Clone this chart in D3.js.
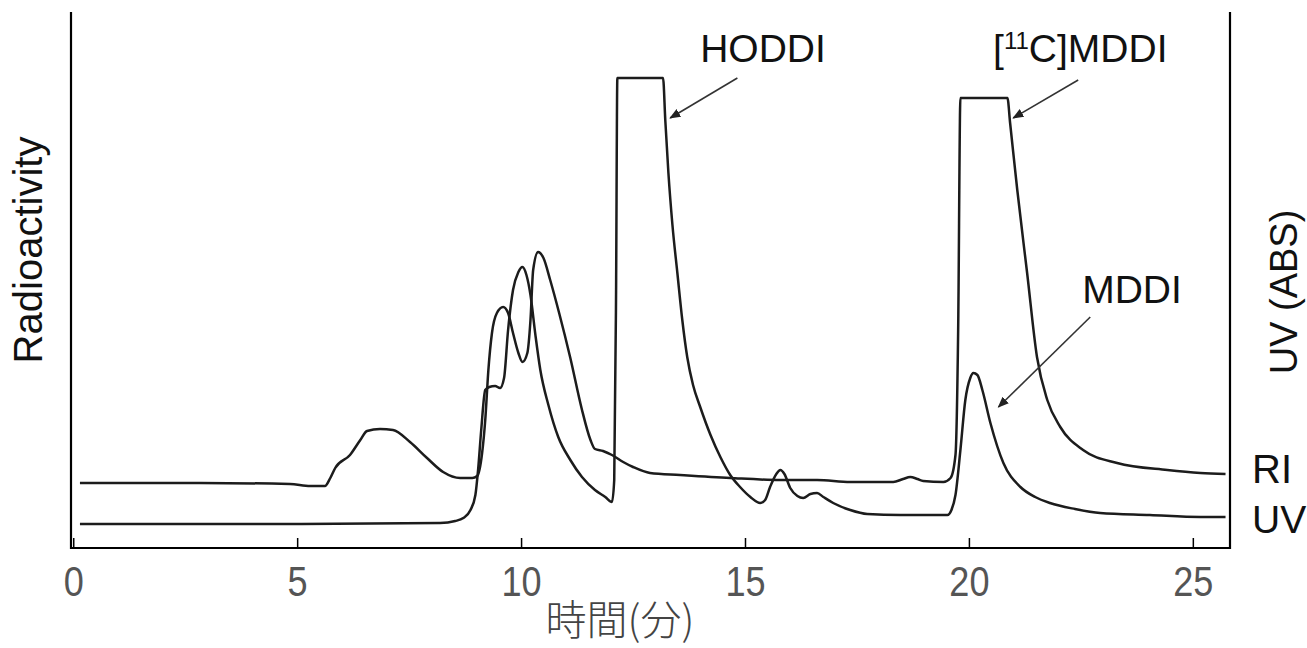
<!DOCTYPE html>
<html>
<head>
<meta charset="utf-8">
<script src="https://cdn.jsdelivr.net/npm/d3@7"></script>
<style>
  body { margin: 0; background: #fff; }
  svg { display: block; }
  .lbl { font-family: "Liberation Sans", Arial, sans-serif; fill: #111; }
  .tick text { font-family: "Liberation Sans Narrow", "Arial Narrow", "Liberation Sans", sans-serif; fill: #555; }
</style>
</head>
<body>
<svg id="chart" width="1307" height="648"></svg>
<script>
// retention time (min) and detector signal (arbitrary units)
var riTime = [0.15, 2.83, 4.84, 5.29, 5.62, 5.74, 5.85, 6.18, 6.41, 6.56, 6.85, 7.14, 7.52, 7.90, 8.26, 8.64, 8.91,
  9.02, 9.13, 9.20, 9.27, 9.35, 9.46, 9.60, 9.71, 9.82, 9.94, 10.03, 10.14, 10.21, 10.27, 10.38, 10.50, 10.65, 10.85,
  11.10, 11.35, 11.55, 11.65, 11.83, 12.03, 12.28, 12.50, 12.88, 13.55, 14.67, 15.79, 16.61, 17.35, 18.31, 18.53, 18.69,
  18.85, 18.98, 19.43, 19.59, 19.70, 19.76, 19.81, 20.86, 20.92, 21.08, 21.30, 21.52, 21.75, 22.04, 22.55, 23.31,
  24.43, 25.17, 25.73];
var riSignal = [65, 65, 64, 62, 62, 70, 80, 93, 108, 117, 119, 118, 106, 90, 76, 70, 70,
  72, 95, 128, 178, 215, 235, 241, 235, 215, 195, 186, 195, 228, 278, 296, 290, 268, 235,
  190, 140, 108, 99, 97, 93, 86, 81, 75, 73, 70, 68, 68, 66, 66, 69, 71,
  69, 67, 66, 70, 93, 218, 450, 450, 425, 358, 275, 191, 148, 121, 98, 85,
  78, 75, 74];

var uvTime = [0.15, 5.07, 8.19, 8.53, 8.71, 8.87, 8.98, 9.04, 9.11, 9.20, 9.29, 9.42, 9.53, 9.62, 9.71, 9.82, 9.94,
  10.03, 10.12, 10.21, 10.32, 10.43, 10.61, 10.83, 11.10, 11.36, 11.65, 11.88, 12.03, 12.08, 12.12, 12.15, 13.17,
  13.22, 13.29, 13.38, 13.49, 13.60, 13.71, 13.84, 14.00, 14.23, 14.45, 14.67, 14.89, 15.12, 15.34, 15.45, 15.56,
  15.70, 15.79, 15.88, 16.01, 16.17, 16.30, 16.46, 16.61, 16.75, 16.97, 17.35, 17.73, 18.47, 19.52, 19.61, 19.70,
  19.81, 19.92, 20.03, 20.10, 20.19, 20.30, 20.48, 20.77, 21.15, 21.48, 21.81, 22.37, 22.93, 24.04, 25.17, 25.73];
var uvSignal = [24, 24, 25, 27, 30, 38, 53, 78, 118, 158, 161, 162, 160, 170, 218, 258, 276,
  281, 273, 253, 213, 178, 143, 111, 88, 71, 58, 51, 46, 68, 248, 470, 470,
  428, 375, 323, 275, 228, 191, 163, 141, 113, 91, 73, 61, 51, 45, 48, 61,
  74, 78, 74, 60, 52, 50, 54, 55, 51, 45, 38, 34, 33, 33, 38, 53,
  98, 148, 170, 175, 173, 158, 125, 85, 61, 51, 45, 39, 35, 33, 31, 31];

var xTicks = [0, 5, 10, 15, 20, 25];

// peak labels: [time, signal] and arrows: [fromTime, fromSignal, toTime, toSignal]
var peakNames = ["HODDI", "[11C]MDDI", "MDDI"];
var peakLabelPos = [[14.0, 486], [20.54, 486], [22.53, 245]];
var peakArrows = [[14.83, 470, 13.33, 430], [22.44, 468, 20.99, 430], [22.71, 231, 20.66, 141]];

var svg = d3.select("#chart");

var x = d3.scaleLinear().domain([-0.05, 25.83]).range([71, 1230]);
var y = d3.scaleLinear().domain([0, 538]).range([548, 10]);

// frame
svg.append("path")
  .attr("d", "M" + x.range()[0] + "," + y(536) + "V" + y(0) + "H" + x.range()[1] + "V" + y(536))
  .attr("fill", "none").attr("stroke", "#000").attr("stroke-width", 2.2);

var xAxis = svg.append("g")
  .attr("transform", "translate(0," + y(0) + ")")
  .call(d3.axisBottom(x).tickValues(xTicks).tickSizeInner(-10).tickSizeOuter(0).tickPadding(17));
xAxis.select(".domain").remove();
xAxis.selectAll(".tick line").attr("stroke", "#000").attr("stroke-width", 1.5);
xAxis.selectAll(".tick text")
  .attr("font-size", 43)
  .attr("dy", "0.71em")
  .attr("transform", "scale(0.84,1)");

svg.append("text")
  .attr("x", 620).attr("y", 635)
  .attr("text-anchor", "middle")
  .attr("font-family", "'Noto Sans CJK JP', 'Noto Sans CJK SC', sans-serif")
  .attr("font-weight", 300)
  .attr("font-size", 41)
  .attr("fill", "#444")
  .text("時間(分)");

var line = d3.line()
  .x(function(d) { return x(d[0]); })
  .y(function(d) { return y(d[1]); })
  .curve(d3.curveMonotoneX);

var ri = d3.zip(riTime, riSignal);
var uv = d3.zip(uvTime, uvSignal);

svg.selectAll(".trace")
  .data([ri, uv])
  .enter()
  .append("path")
  .attr("class", "trace")
  .attr("d", line)
  .attr("fill", "none")
  .attr("stroke", "#1c1c1c")
  .attr("stroke-width", 2.5)
  .attr("stroke-linejoin", "round");

// arrows
svg.append("defs").append("marker")
  .attr("id", "head")
  .attr("viewBox", "0 0 10 10")
  .attr("refX", 9).attr("refY", 5)
  .attr("markerWidth", 7).attr("markerHeight", 7)
  .attr("orient", "auto")
  .append("path")
  .attr("d", "M0,1L10,5L0,9z")
  .attr("fill", "#222");

svg.selectAll(".arrow")
  .data(peakArrows)
  .enter()
  .append("line")
  .attr("class", "arrow")
  .attr("x1", function(d) { return x(d[0]); })
  .attr("y1", function(d) { return y(d[1]); })
  .attr("x2", function(d) { return x(d[2]); })
  .attr("y2", function(d) { return y(d[3]); })
  .attr("stroke", "#333")
  .attr("stroke-width", 1.6)
  .attr("marker-end", "url(#head)");

// peak labels
peakNames.forEach(function(name, i) {
  var t = svg.append("text")
    .attr("class", "lbl")
    .attr("x", x(peakLabelPos[i][0]))
    .attr("y", y(peakLabelPos[i][1]))
    .attr("font-size", 39);
  if (name.indexOf("[11C]") === 0) {
    t.append("tspan").text("[");
    t.append("tspan").attr("font-size", 24).attr("dy", -13).text("11");
    t.append("tspan").attr("dy", 13).text("C]MDDI");
  } else {
    t.text(name);
  }
});

// axis titles
svg.append("text")
  .attr("class", "lbl")
  .attr("transform", "translate(42,250) rotate(-90)")
  .attr("text-anchor", "middle")
  .attr("font-size", 40)
  .text("Radioactivity");

svg.append("text")
  .attr("class", "lbl")
  .attr("transform", "translate(1297,292) rotate(-90)")
  .attr("text-anchor", "middle")
  .attr("font-size", 38)
  .text("UV (ABS)");

svg.append("text").attr("class", "lbl")
  .attr("x", 1252).attr("y", 483).attr("font-size", 40).text("RI");
svg.append("text").attr("class", "lbl")
  .attr("x", 1252).attr("y", 533).attr("font-size", 39).text("UV");
</script>
</body>
</html>
